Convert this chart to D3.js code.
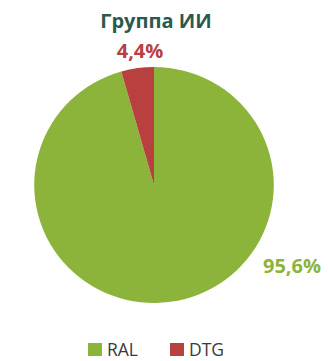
<!DOCTYPE html>
<html>
<head>
<meta charset="utf-8">
<script src="https://cdn.jsdelivr.net/npm/d3@7"></script>
<style>
  html, body { margin: 0; padding: 0; background: #fff; }
  svg { display: block; font-family: "Open Sans", "DejaVu Sans", sans-serif; }
</style>
</head>
<body>
<svg id="chart" width="328" height="361"></svg>
<script>
const title = "Группа ИИ";
const categories = ["RAL", "DTG"];
const values = [95.6, 4.4];
const labels = ["95,6%", "4,4%"];
const colors = ["#8cb43a", "#b8403f"];

const svg = d3.select("#chart");
const cx = 154, cy = 185, r = 118;

const color = d3.scaleOrdinal().domain(categories).range(colors);
const pie = d3.pie().sort(null).value(d => d.value);
const arcs = pie(categories.map((c, i) => ({ cat: c, value: values[i], label: labels[i] })));
const arc = d3.arc().innerRadius(0).outerRadius(r);

// Pie, slightly wider than tall
svg.append("g")
  .attr("transform", `translate(${cx},${cy}) scale(1.015,1)`)
  .selectAll("path")
  .data(arcs)
  .join("path")
  .attr("d", arc)
  .attr("fill", d => color(d.data.cat));

// Value labels placed outside the pie
const labelPos = [[292, 273], [140, 58]];
svg.selectAll("text.val")
  .data(arcs)
  .join("text")
  .attr("class", "val")
  .attr("x", (d, i) => labelPos[i][0])
  .attr("y", (d, i) => labelPos[i][1])
  .attr("text-anchor", "middle")
  .attr("font-size", 20)
  .attr("font-weight", "bold")
  .attr("fill", d => color(d.data.cat))
  .text(d => d.data.label);

svg.append("text")
  .attr("x", 156).attr("y", 28)
  .attr("text-anchor", "middle")
  .attr("font-size", 20)
  .attr("font-weight", "bold")
  .attr("fill", "#2a5a4e")
  .text(title);

// Legend
const legendX = [88, 170];
const lg = svg.append("g").selectAll("g")
  .data(categories)
  .join("g")
  .attr("transform", (d, i) => `translate(${legendX[i]},343)`);
lg.append("rect").attr("width", 14).attr("height", 13).attr("fill", d => color(d));
lg.append("text").attr("x", 19).attr("y", 13)
  .attr("font-size", 17.5).attr("fill", "#3a3a3a")
  .text(d => d);
</script>
</body>
</html>
